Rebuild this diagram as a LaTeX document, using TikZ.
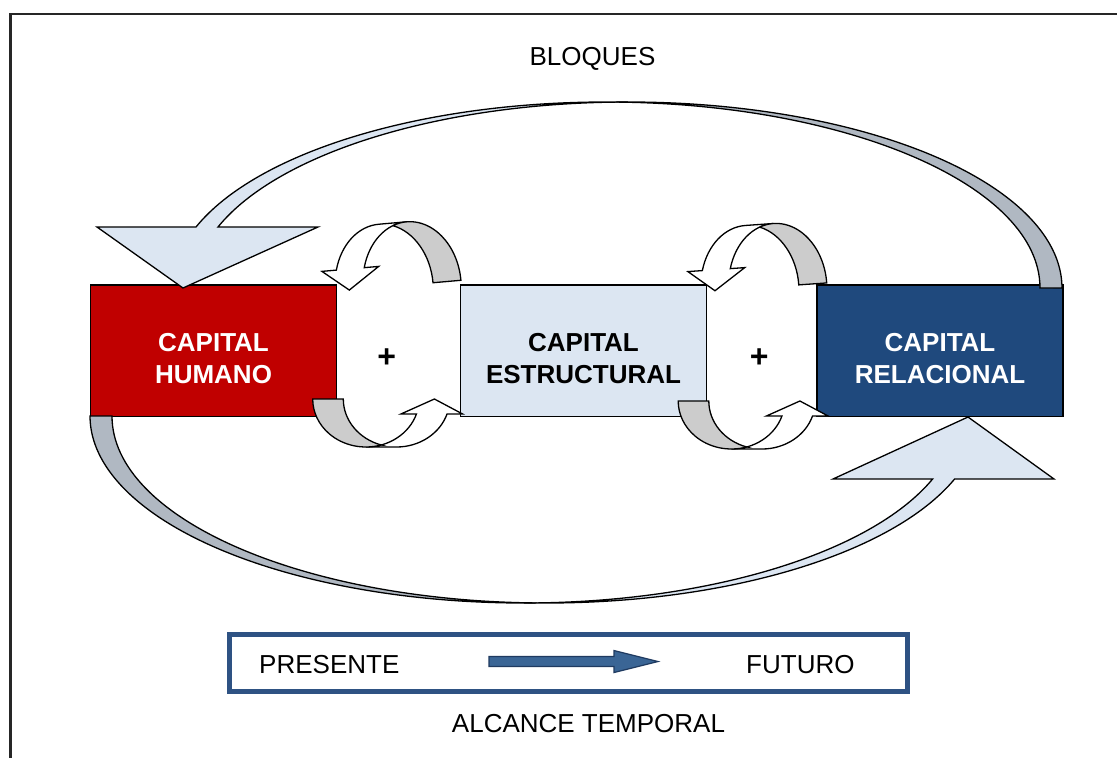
\documentclass[tikz,border=0pt]{standalone}
\usepackage{fontspec}
\setmainfont{Liberation Sans}
\definecolor{humred}{HTML}{C00000}
\definecolor{estblue}{HTML}{DCE6F2}
\definecolor{relblue}{HTML}{1F497D}
\definecolor{backgrey}{HTML}{B0B8C2}
\definecolor{ringgrey}{HTML}{CCCCCC}
\definecolor{timeblue}{HTML}{2E5283}
\definecolor{arrowblue}{HTML}{3A6595}
\definecolor{arrowedge}{HTML}{1F3A60}
\begin{document}
\begin{tikzpicture}[x=1pt,y=1pt,
  capbox/.style={draw=black,line width=1.5pt,minimum width=246pt,minimum height=131.5pt,inner sep=0pt},
  captext/.style={font=\bfseries\fontsize{26}{32.3}\selectfont,align=center,inner sep=0pt},
  plain/.style={font=\fontsize{26}{31}\selectfont,inner sep=0pt},
  plus/.style={font=\bfseries\fontsize{32}{36}\selectfont,inner sep=0pt},
  bandpen/.style={draw=black,line width=1.3pt,line join=miter},
  % small cycle arrow above a gap: front face points down-left, back face rises from the right
  toploop/.pic={
    \filldraw[bandpen,fill=white] (-3.7,21) -- (-18.2,21)
      arc[start angle=160.53,end angle=90,x radius=49,y radius=63] -- (0,63)
      arc[start angle=90,end angle=160.53,x radius=49,y radius=63]
      -- (-60.7,21) -- (-35,0) -- cycle;
    \filldraw[bandpen,fill=ringgrey] (14,60.37)
      arc[start angle=106.6,end angle=0,x radius=49,y radius=63] -- (49,0)
      arc[start angle=0,end angle=73.4,x radius=49,y radius=63] -- cycle;
  },
  % small cycle arrow below a gap: back face hangs from the left, front face points up-right
  botloop/.pic={
    \filldraw[bandpen,fill=white] (35,-15) -- (50.54,-15)
      arc[start angle=-18.21,end angle=-90,x radius=53.2,y radius=48] -- (30.6,-48)
      arc[start angle=-90,end angle=-18.21,x radius=53.2,y radius=48]
      -- (96.69,-15) -- (68.5,0) -- cycle;
    \filldraw[bandpen,fill=ringgrey] (15.3,-45.97)
      arc[start angle=-73.29,end angle=-180,x radius=53.2,y radius=48] -- (-22.6,0)
      arc[start angle=180,end angle=253.29,x radius=53.2,y radius=48] -- cycle;
  }]
\useasboundingbox (0,0) rectangle (1117,-758);
\fill[white] (0,0) rectangle (1117,-758);

% page frame
\draw[black!85,line width=2.3pt] (1117,-13.8) -- (10.5,-13.8) -- (10.5,-758);

\node[plain,anchor=base] (blq) at (592.5,-65) {BLOQUES};

% the three capital blocks
\node[capbox,fill=humred] (hum) at (213.5,-350.75) {};
\node[capbox,fill=estblue] (est) at (583.5,-350.5) {};
\node[capbox,fill=relblue] (rel) at (940,-350.5) {};
\node[captext,text=white] (humT) at ([yshift=-8pt]hum.center) {CAPITAL\\HUMANO};
\node[captext,text=black] (estT) at ([yshift=-8pt]est.center) {CAPITAL\\ESTRUCTURAL};
\node[captext,text=white] (relT) at ([yshift=-8pt]rel.center) {CAPITAL\\RELACIONAL};

% upper sweep from CAPITAL RELACIONAL back to CAPITAL HUMANO
\filldraw[bandpen,fill=estblue] (318,-227) -- (218,-227)
  arc[start angle=160.85,end angle=90,x radius=434,y radius=186] -- (606,-102)
  arc[start angle=90,end angle=160.85,x radius=434,y radius=186]
  -- (97,-227) -- (183,-288) -- cycle;
\filldraw[bandpen,fill=backgrey] (617,-102.06)
  arc[start angle=91.45,end angle=0,x radius=434,y radius=186] -- (1040,-288)
  arc[start angle=0,end angle=88.55,x radius=434,y radius=186] -- cycle;

% lower sweep from CAPITAL HUMANO forward to CAPITAL RELACIONAL
\filldraw[bandpen,fill=estblue] (833,-479) -- (932.6,-479)
  arc[start angle=-19.69,end angle=-90,x radius=434,y radius=187] -- (546,-603)
  arc[start angle=-90,end angle=-19.69,x radius=434,y radius=187]
  -- (1054,-479) -- (968,-417) -- cycle;
\filldraw[bandpen,fill=backgrey] (535,-602.94)
  arc[start angle=-88.55,end angle=-180,x radius=434,y radius=187] -- (112,-416)
  arc[start angle=180,end angle=268.55,x radius=434,y radius=187] -- cycle;

% feedback loops between neighbouring blocks
\pic[rotate=5] (loopA) at (384.2,-287) {toploop};
\pic (loopB) at (365.9,-399) {botloop};
\pic[rotate=4] (loopC) at (749.9,-288.3) {toploop};
\pic (loopD) at (731.4,-401) {botloop};

\node[plus] (plusA) at (386.7,-358.3) {+};
\node[plus] (plusB) at (759.3,-358.3) {+};

% time scope
\node[draw=timeblue,line width=4.5pt,minimum width=678pt,minimum height=57pt,inner sep=0pt] (horizon) at (568.5,-663) {};
\node[plain,anchor=base west] (pres) at (259,-673.5) {PRESENTE};
\node[plain,anchor=base west] (fut) at (746,-673.5) {FUTURO};
\filldraw[fill=arrowblue,draw=arrowedge,line width=1.2pt]
  (489,-656.5) -- (614,-656.5) -- (614,-650.5) -- (658,-661.5)
  -- (614,-672.5) -- (614,-666.5) -- (489,-666.5) -- cycle;
\node[plain,anchor=base] (alc) at (588.5,-732) {ALCANCE TEMPORAL};
\end{tikzpicture}
\end{document}
